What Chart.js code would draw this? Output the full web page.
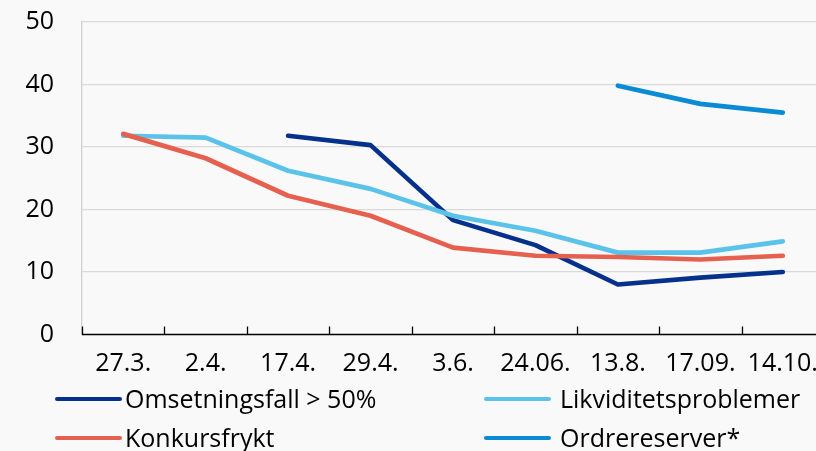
<!DOCTYPE html>
<html>
<head>
<meta charset="utf-8">
<script src="https://cdn.jsdelivr.net/npm/chart.js@4.4.1/dist/chart.umd.min.js"></script>
<style>
  html, body { margin:0; padding:0; background:#f9f9f9; overflow:hidden; }
  #wrap { position:relative; width:816px; height:451px; overflow:hidden; }
  canvas { position:absolute; left:0; top:0; }
  .leg { position:absolute; font-family:"Open Sans", sans-serif; font-size:25px; color:#000; white-space:nowrap; line-height:1; }
  .sw { position:absolute; height:4px; border-radius:2px; }
</style>
</head>
<body>
<div id="wrap">
  <canvas id="c" width="824" height="451"></canvas>
  <div id="legend"></div>
</div>
<script>
const categories = ["27.3.", "2.4.", "17.4.", "29.4.", "3.6.", "24.06.", "13.8.", "17.09.", "14.10."];
const omsetningsfall = [null, null, 31.8, 30.3, 18.3, 14.3, 8.0, 9.1, 10.0];
const likviditet = [31.8, 31.5, 26.2, 23.3, 19.0, 16.6, 13.1, 13.1, 14.9];
const konkurs = [32.1, 28.2, 22.2, 19.0, 13.9, 12.6, 12.4, 12.0, 12.6];
const ordrereserver = [null, null, null, null, null, null, 39.8, 36.9, 35.5];
const yTicks = [0, 10, 20, 30, 40, 50];

const seriesNames = ["Omsetningsfall > 50%", "Likviditetsproblemer", "Konkursfrykt", "Ordrereserver*"];
const seriesColors = ["#05318a", "#5bc3ea", "#e5604f", "#0b8bd3"];
const seriesData = [omsetningsfall, likviditet, konkurs, ordrereserver];

const FONT = '"Open Sans", sans-serif';

const tickMarks = {
  id: 'tickMarks',
  afterDraw(chart) {
    const {ctx, chartArea} = chart;
    const n = categories.length;
    const w = (chartArea.right - chartArea.left) / n;
    ctx.save();
    ctx.strokeStyle = '#000';
    ctx.lineWidth = 1.3;
    for (let k = 0; k <= n; k++) {
      const x = Math.round(chartArea.left + k * w) + 0.5;
      ctx.beginPath();
      ctx.moveTo(x, chartArea.bottom);
      ctx.lineTo(x, chartArea.bottom - 8);
      ctx.stroke();
    }
    ctx.beginPath();
    ctx.lineWidth = 1.5;
    ctx.moveTo(chartArea.left, chartArea.bottom);
    ctx.lineTo(chartArea.right, chartArea.bottom);
    ctx.stroke();
    ctx.restore();
  }
};

new Chart(document.getElementById('c'), {
  type: 'line',
  data: {
    labels: categories,
    datasets: seriesData.map((d, i) => ({
      label: seriesNames[i],
      data: d,
      order: seriesData.length - i,
      borderColor: seriesColors[i],
      backgroundColor: seriesColors[i],
      borderWidth: 4.7,
      pointRadius: 0,
      tension: 0,
      spanGaps: false,
      borderCapStyle: 'round',
      borderJoinStyle: 'round'
    }))
  },
  options: {
    responsive: false,
    animation: false,
    layout: { padding: { top: 22, left: 0, right: 0, bottom: 0 } },
    plugins: { legend: { display: false }, tooltip: { enabled: false } },
    scales: {
      x: {
        offset: true,
        grid: { display: false, drawTicks: false },
        border: { display: false },
        ticks: { color: '#000', font: { family: FONT, size: 25 }, padding: 14, maxRotation: 0, autoSkip: false },
        afterFit(s) { s.height = 451 - 334.5; s.paddingLeft = 0; s.paddingRight = 0; }
      },
      y: {
        min: 0, max: 50,
        afterBuildTicks(s) { s.ticks = yTicks.map(v => ({ value: v })); },
        grid: { color: ctx => ctx.tick && ctx.tick.value === 0 ? 'rgba(0,0,0,0)' : '#d9d9d9', lineWidth: 1.3, drawTicks: false },
        border: { display: true, color: '#d0d0d0', width: 1.3 },
        ticks: { color: '#000', font: { family: FONT, size: 25 }, padding: 28 },
        afterFit(s) { s.width = 82; s.paddingTop = 0; s.paddingBottom = 0; }
      }
    }
  },
  plugins: [tickMarks]
});

// HTML legend
const legPos = [
  { sx: 55, tx: 125, y: 399 },
  { sx: 484, tx: 560, y: 399 },
  { sx: 55, tx: 125, y: 438 },
  { sx: 484, tx: 560, y: 438 }
];
const legend = document.getElementById('legend');
seriesNames.forEach((name, i) => {
  const p = legPos[i];
  const sw = document.createElement('div');
  sw.className = 'sw';
  sw.style.left = p.sx + 'px';
  sw.style.width = '67px';
  sw.style.top = (p.y - 2) + 'px';
  sw.style.background = seriesColors[i];
  legend.appendChild(sw);
  const t = document.createElement('div');
  t.className = 'leg';
  t.style.left = p.tx + 'px';
  t.style.top = (p.y - 13) + 'px';
  t.textContent = name;
  legend.appendChild(t);
});
</script>
</body>
</html>
